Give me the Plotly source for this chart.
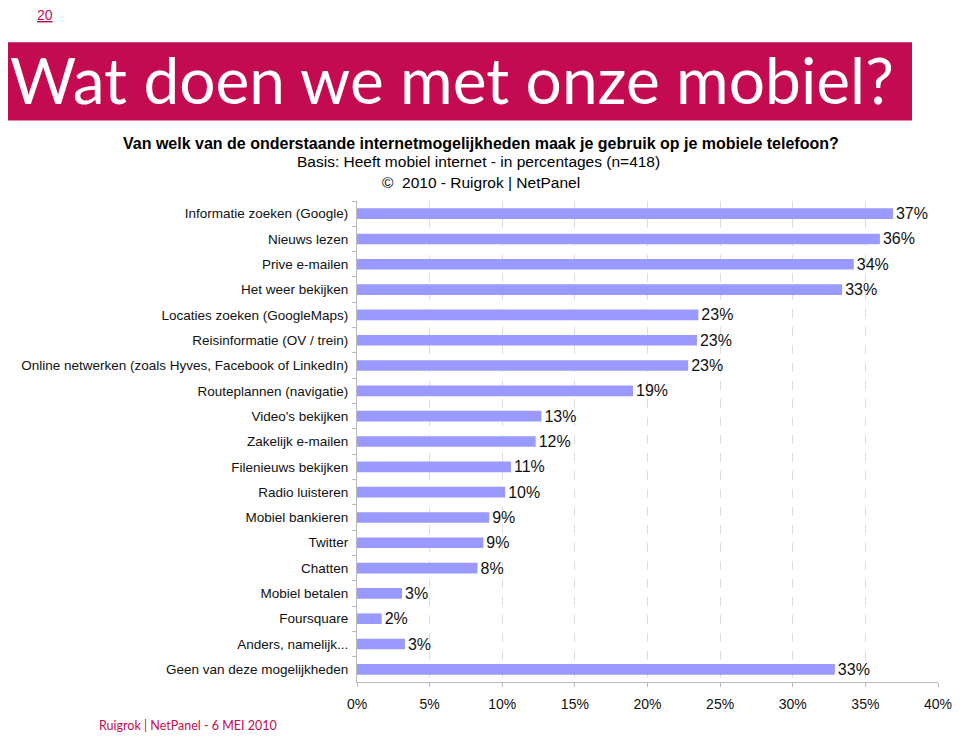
import plotly.graph_objects as go

categories = [
    "Informatie zoeken (Google)",
    "Nieuws lezen",
    "Prive e-mailen",
    "Het weer bekijken",
    "Locaties zoeken (GoogleMaps)",
    "Reisinformatie (OV / trein)",
    "Online netwerken (zoals Hyves, Facebook of LinkedIn)",
    "Routeplannen (navigatie)",
    "Video's bekijken",
    "Zakelijk e-mailen",
    "Filenieuws bekijken",
    "Radio luisteren",
    "Mobiel bankieren",
    "Twitter",
    "Chatten",
    "Mobiel betalen",
    "Foursquare",
    "Anders, namelijk...",
    "Geen van deze mogelijkheden",
]
values = [36.9, 36.0, 34.2, 33.4, 23.5, 23.4, 22.8, 19.0, 12.7, 12.3,
          10.6, 10.2, 9.1, 8.7, 8.3, 3.1, 1.7, 3.3, 32.9]
value_labels = ["37%", "36%", "34%", "33%", "23%", "23%", "23%", "19%", "13%", "12%",
                "11%", "10%", "9%", "9%", "8%", "3%", "2%", "3%", "33%"]
x_ticks = [0, 5, 10, 15, 20, 25, 30, 35, 40]
x_tick_labels = ["0%", "5%", "10%", "15%", "20%", "25%", "30%", "35%", "40%"]

# page has an 8px body margin: figure is drawn 8px in from top-left
OFF = 8
W, H = 960 - OFF, 737 - OFF
PL, PR, PT, PB = 357, 938, 201.4, 681.6  # plot area in reference pixels


def px(x):
    return (x - PL) / (PR - PL)


def py(y):
    return (PB - y) / (PB - PT)


fig = go.Figure()
fig.add_trace(go.Bar(
    x=values, y=categories, orientation="h",
    marker=dict(color="#9999FF", line=dict(width=0)),
    width=0.42,
    text=value_labels, textposition="outside", cliponaxis=False,
    constraintext="none",
    textfont=dict(family="Liberation Sans, Arial", size=16, color="#111111"),
    hoverinfo="skip",
))

fig.update_layout(
    width=W, height=H,
    margin=dict(l=PL - OFF, r=960 - PR, t=PT - OFF, b=H - (PB - OFF), pad=0, autoexpand=False),
    paper_bgcolor="white", plot_bgcolor="white",
    showlegend=False,
    font=dict(family="Liberation Sans, Arial", color="#111111"),
    xaxis=dict(
        range=[0, 40], tickvals=x_ticks, ticktext=x_tick_labels,
        showgrid=True, gridcolor="#dddddd", griddash="dash", gridwidth=1,
        zeroline=False, showline=True, linecolor="#bbbbbb", linewidth=1,
        ticks="outside", ticklen=4, tickcolor="#bbbbbb",
        tickfont=dict(size=14, color="#111111"), ticklabelstandoff=5,
        automargin=False,
        fixedrange=True,
    ),
    yaxis=dict(
        categoryorder="array", categoryarray=categories, autorange="reversed",
        showline=True, linecolor="#bbbbbb", linewidth=1,
        ticks="outside", ticklen=4, tickcolor="#bbbbbb", tickson="boundaries",
        tickfont=dict(size=13.5, color="#111111"), showgrid=False,
        ticklabelstandoff=5, automargin=False,
        fixedrange=True,
    ),
)

# Banner
fig.add_shape(type="rect", xref="paper", yref="paper",
              x0=px(2), x1=px(912), y0=py(121), y1=py(43),
              fillcolor="#C40A50", line=dict(width=0), layer="below")

annotations = [
    dict(text="Wat doen we met onze mobiel?", x=px(8), y=py(80), xanchor="left", yanchor="middle",
         font=dict(family="Lato", size=64, color="white")),
    dict(text="<u>20</u>", x=px(45), y=py(16), xanchor="center", yanchor="middle",
         font=dict(family="Liberation Sans, Arial", size=14, color="#C40A50")),
    dict(text="<b>Van welk van de onderstaande internetmogelijkheden maak je gebruik op je mobiele telefoon?</b>",
         x=px(481), y=py(144), xanchor="center", yanchor="middle",
         font=dict(family="Liberation Sans, Arial", size=16, color="#000000")),
    dict(text="Basis: Heeft mobiel internet - in percentages (n=418)",
         x=px(478), y=py(162), xanchor="center", yanchor="middle",
         font=dict(family="Liberation Sans, Arial", size=15.5, color="#000000")),
    dict(text="©  2010 - Ruigrok | NetPanel",
         x=px(481), y=py(183), xanchor="center", yanchor="middle",
         font=dict(family="Liberation Sans, Arial", size=15.5, color="#000000")),
    dict(text="Ruigrok | NetPanel - 6 MEI 2010", x=px(97), y=py(725), xanchor="left", yanchor="middle",
         font=dict(family="Lato", size=12.5, color="#C40A50")),
]
for a in annotations:
    a.update(xref="paper", yref="paper", showarrow=False)
    fig.add_annotation(**a)

fig.write_html("out.html")
